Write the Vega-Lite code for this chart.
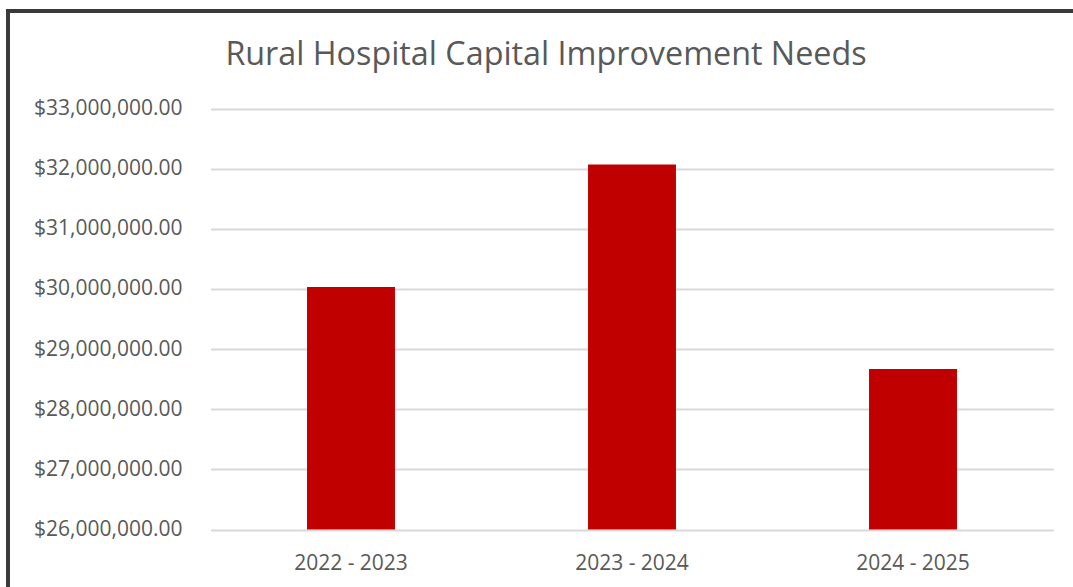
{
  "$schema": "https://vega.github.io/schema/vega-lite/v6.json",
  "autosize": {"type": "none"},
  "padding": {"left": 8, "top": 11, "right": 0, "bottom": 0},
  "width": 1080,
  "height": 590,
  "background": "white",
  "title": {
    "text": "Rural Hospital Capital Improvement Needs",
    "font": "Open Sans",
    "fontSize": 32.3,
    "fontWeight": "normal",
    "color": "#595959",
    "frame": "group",
    "anchor": "middle",
    "baseline": "alphabetic",
    "offset": -86,
    "dx": -2
  },
  "data": {
    "values": [
      {"year": "2022 - 2023", "needs": 30030000},
      {"year": "2023 - 2024", "needs": 32070000},
      {"year": "2024 - 2025", "needs": 28670000}
    ]
  },
  "mark": {"type": "bar", "color": "#C00000"},
  "encoding": {
    "x": {
      "field": "year",
      "type": "nominal",
      "sort": null,
      "title": null,
      "scale": {"range": [202.5, 1045.5], "paddingInner": 0.687, "paddingOuter": 0.3435},
      "axis": {
        "labelAngle": 0,
        "labelFont": "Open Sans",
        "labelFontSize": 21,
        "labelColor": "#595959",
        "labelBaseline": "top",
        "labelPadding": 0,
        "ticks": false,
        "domain": false,
        "grid": false,
        "offset": -49
      }
    },
    "y": {
      "field": "needs",
      "type": "quantitative",
      "title": null,
      "scale": {"domain": [26000000, 33000000], "range": [518.5, 97.5], "nice": false, "zero": false},
      "axis": {
        "values": [26000000, 27000000, 28000000, 29000000, 30000000, 31000000, 32000000, 33000000],
        "format": "$,.2f",
        "labelFont": "Open Sans",
        "labelFontSize": 21,
        "labelColor": "#595959",
        "labelPadding": 0,
        "ticks": false,
        "domain": false,
        "grid": true,
        "gridColor": "#d9d9d9",
        "gridWidth": 2,
        "offset": -174
      }
    },
    "y2": {"datum": 26000000}
  },
  "config": {
    "view": {"stroke": "#3a3a3a", "strokeWidth": 4}
  }
}
